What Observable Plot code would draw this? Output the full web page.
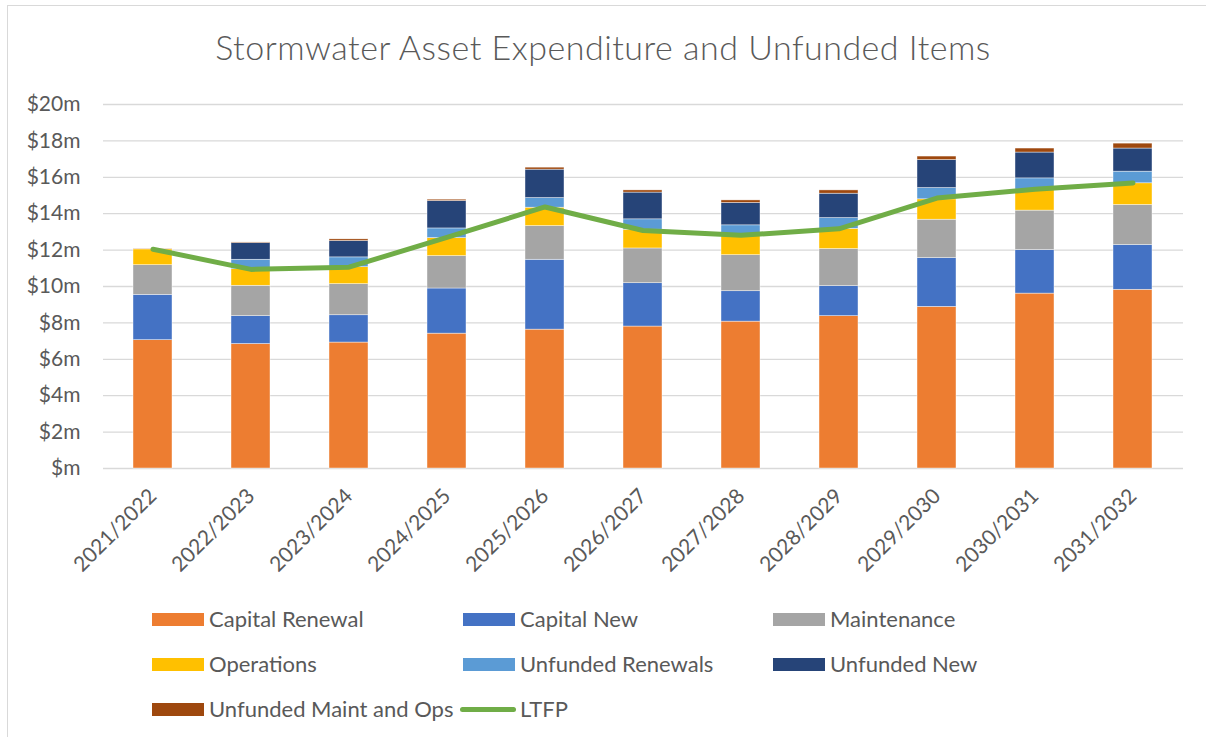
<!DOCTYPE html>
<html>
<head>
<meta charset="utf-8">
<script src="https://cdn.jsdelivr.net/npm/d3@7"></script>
<script src="https://cdn.jsdelivr.net/npm/@observablehq/plot@0.6"></script>
<style>
  html, body { margin: 0; padding: 0; background: #fff; overflow: hidden; width: 1206px; height: 737px; }
  body { position: relative; font-family: Lato, "Open Sans", sans-serif; color: #595959; }
  #frame { position: absolute; left: 7px; top: 5px; width: 1300px; height: 800px; border: 1px solid #d9d9d9; box-sizing: border-box; }
  #title { position: absolute; left: 0; width: 1206px; top: 26px; text-align: center; font-size: 34px; letter-spacing: 0.5px; font-weight: 300; line-height: 42px; color: #595959; }
  #chart { position: absolute; left: 0; top: 90px; }
  .leg { position: absolute; font-size: 22px; line-height: 26px; color: #595959; white-space: nowrap; }
  .sw { position: absolute; width: 52px; height: 13px; }
  .ln { position: absolute; width: 56px; height: 5px; border-radius: 3px; }
</style>
</head>
<body>
<div id="frame"></div>
<div id="title">Stormwater Asset Expenditure and Unfunded Items</div>
<div id="chart"></div>
<div id="legend"></div>
<script>
const years = ["2021/2022","2022/2023","2023/2024","2024/2025","2025/2026","2026/2027","2027/2028","2028/2029","2029/2030","2030/2031","2031/2032"];

const seriesNames = ["Capital Renewal","Capital New","Maintenance","Operations","Unfunded Renewals","Unfunded New","Unfunded Maint and Ops"];
const seriesColors = ["#ED7D31","#4472C4","#A5A5A5","#FFC000","#5B9BD5","#264478","#9E480E"];

// values in $m
const capitalRenewal   = [7.05, 6.84, 6.92, 7.41, 7.63, 7.80, 8.07, 8.37, 8.88, 9.61, 9.82];
const capitalNew       = [2.49, 1.53, 1.50, 2.48, 3.84, 2.38, 1.67, 1.65, 2.68, 2.39, 2.46];
const maintenance      = [1.63, 1.67, 1.71, 1.78, 1.85, 1.91, 1.98, 2.04, 2.11, 2.17, 2.20];
const operations       = [0.87, 0.91, 0.93, 0.99, 1.01, 1.03, 1.07, 1.11, 1.12, 1.15, 1.19];
const unfundedRenewals = [0.00, 0.52, 0.54, 0.53, 0.53, 0.57, 0.57, 0.59, 0.62, 0.62, 0.64];
const unfundedNew      = [0.00, 0.92, 0.90, 1.51, 1.56, 1.47, 1.23, 1.34, 1.54, 1.42, 1.27];
const unfundedMaintOps = [0.03, 0.03, 0.09, 0.07, 0.11, 0.12, 0.14, 0.18, 0.19, 0.22, 0.27];
const ltfp             = [12.05, 10.94, 11.06, 12.70, 14.37, 13.08, 12.81, 13.17, 14.86, 15.34, 15.69];

const yTicks = [0, 2, 4, 6, 8, 10, 12, 14, 16, 18, 20];

const seriesValues = [capitalRenewal, capitalNew, maintenance, operations, unfundedRenewals, unfundedNew, unfundedMaintOps];
const tidy = [];
seriesNames.forEach((s, i) => years.forEach((y, j) => tidy.push({year: y, series: s, value: seriesValues[i][j]})));
const lineData = years.map((y, j) => ({year: y, value: ltfp[j]}));

const chart = Plot.plot({
  width: 1206,
  height: 500,
  marginTop: 14,
  marginBottom: 122,
  marginLeft: 103,
  marginRight: 23,
  style: {fontFamily: "Lato, 'Open Sans', sans-serif", fontSize: "21px", color: "#595959", background: "transparent", overflow: "visible"},
  x: {domain: years, paddingInner: 0.6, paddingOuter: 0.3},
  y: {domain: [0, 20]},
  color: {domain: seriesNames, range: seriesColors},
  marks: [
    Plot.ruleY(yTicks, {stroke: "#d9d9d9", strokeWidth: 1.3}),
    Plot.barY(tidy, {x: "year", y: "value", fill: "series", order: seriesNames, stroke: "white", strokeWidth: 0.6, strokeOpacity: 0.7}),
    Plot.line(lineData, {x: "year", y: "value", stroke: "#70AD47", strokeWidth: 5, strokeLinecap: "round", strokeLinejoin: "round"}),
    Plot.axisY({ticks: yTicks, tickSize: 0, tickPadding: 23, tickFormat: d => "$" + (d === 0 ? "" : d) + "m", label: null}),
    Plot.axisX({tickSize: 0, tickPadding: 24, tickRotate: -45, label: null})
  ]
});
document.getElementById("chart").appendChild(chart);

// legend
const legendItems = seriesNames.map((s, i) => ({label: s, color: seriesColors[i], type: "box"}));
legendItems.push({label: "LTFP", color: "#70AD47", type: "line"});
const colX = [152, 463, 773];
const rowY = [619, 664, 709];
const leg = document.getElementById("legend");
legendItems.forEach((it, k) => {
  const c = k % 3, r = Math.floor(k / 3);
  const x = colX[c], cy = rowY[r];
  const sw = document.createElement("div");
  if (it.type === "box") {
    sw.className = "sw";
    sw.style.left = x + "px";
    sw.style.top = (cy - 6.5) + "px";
  } else {
    sw.className = "ln";
    sw.style.left = (x - 3) + "px";
    sw.style.top = (cy - 2.5) + "px";
  }
  sw.style.background = it.color;
  leg.appendChild(sw);
  const t = document.createElement("div");
  t.className = "leg";
  t.textContent = it.label;
  t.style.left = (x + 57) + "px";
  t.style.top = (cy - 13) + "px";
  leg.appendChild(t);
});
</script>
</body>
</html>
